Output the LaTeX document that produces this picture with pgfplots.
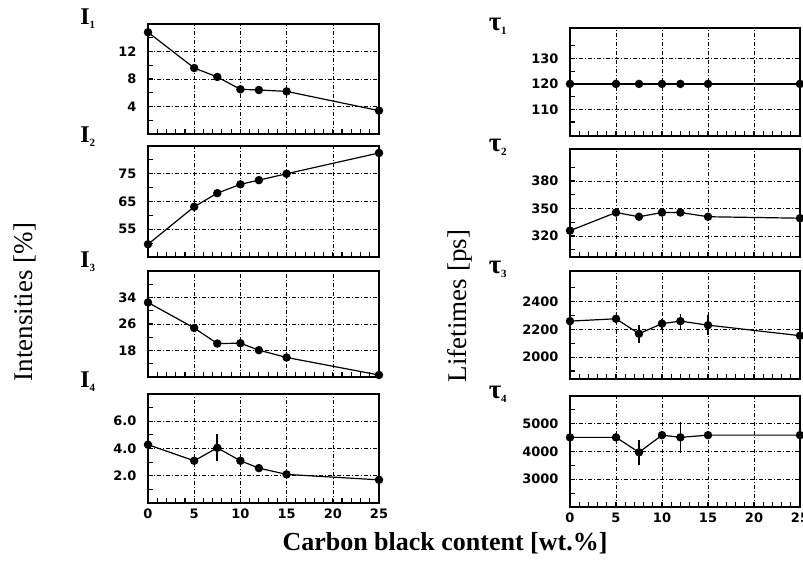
\documentclass[border=0pt]{standalone}
\usepackage{pgfplots}
\pgfplotsset{compat=1.18}
\usepackage{fontspec}
\setmainfont{Liberation Serif}
\newfontfamily\tickfont{DejaVu Sans}

\pgfplotsset{
  panel/.style={
    scale only axis, width=231pt,
    xmin=0, xmax=25,
    xtick={0,5,10,15,20,25}, minor x tick num=4,
    xticklabels={},
    tick pos=left, tick align=inside,
    major tick length=5pt, minor tick length=5pt,
    tick style={black, line width=1.1pt},
    axis line style={line width=1.6pt},
    grid=major,
    major grid style={black, line width=0.6pt, dash pattern=on 4pt off 2pt on 1pt off 2pt},
    tick label style={font=\tickfont\bfseries\fontsize{13}{14}\selectfont},
    /pgf/number format/assume math mode=true,
    /pgf/number format/1000 sep={},
    yticklabel style={xshift=-8pt},
    clip=false,
  },
  bottompanel/.style={xticklabels={0,5,10,15,20,25}, xticklabel style={yshift=-2pt}},
  series/.style={black, line width=1.2pt, mark=*, mark size=3.6pt,
    mark options={fill=black, solid},
    error bars/.cd, y dir=both, y explicit,
    error mark=none, error bar style={line width=1.8pt}},
}

\begin{document}
\begin{tikzpicture}
\useasboundingbox (0pt,0pt) rectangle (803pt,-560pt);

% ---- intensities ----
\begin{axis}[panel, at={(148pt,-24pt)}, anchor=north west, height=110pt,
  ymin=0, ymax=16, ytick={4,8,12}, minor ytick={2,6,10,14}]
  \addplot[series] coordinates {(0,14.8) (5,9.6) (7.5,8.3) (10,6.5) (12,6.4) (15,6.2) (25,3.4)};
  \node[font=\fontsize{24}{24}\selectfont\bfseries] at (rel axis cs:0,1) [xshift=-60pt, yshift=5pt] {I\textsubscript{\fontsize{11}{11}\selectfont 1}};
\end{axis}

\begin{axis}[panel, at={(148pt,-146pt)}, anchor=north west, height=111pt,
  ymin=45, ymax=85, ytick={55,65,75}, minor ytick={50,60,70,80}]
  \addplot[series] coordinates {(0,49.6) (5,63.1) (7.5,68) (10,71.2) (12,72.7) (15,75) (25,82.5)};
  \node[font=\fontsize{24}{24}\selectfont\bfseries] at (rel axis cs:0,1) [xshift=-60pt, yshift=9pt] {I\textsubscript{\fontsize{11}{11}\selectfont 2}};
\end{axis}

\begin{axis}[panel, at={(148pt,-271pt)}, anchor=north west, height=106pt,
  ymin=10, ymax=42, ytick={18,26,34}, minor ytick={14,22,30,38}]
  \addplot[series] coordinates {(0,32.5) (5,24.8) (7.5,20.1) (10,20.2) (12,18.1) (15,15.9) (25,10.6)};
  \node[font=\fontsize{24}{24}\selectfont\bfseries] at (rel axis cs:0,1) [xshift=-60pt, yshift=9pt] {I\textsubscript{\fontsize{11}{11}\selectfont 3}};
\end{axis}

\begin{axis}[panel, bottompanel, at={(148pt,-394pt)}, anchor=north west, height=109pt,
  ymin=0, ymax=8, ytick={2,4,6}, minor ytick={1,3,5,7},
  yticklabel style={/pgf/number format/.cd, fixed, fixed zerofill, precision=1}]
  \addplot[series] coordinates {(0,4.28) +- (0,0) (5,3.1) +- (0,0) (7.5,4.05) +- (0,1.0) (10,3.1) +- (0,0)
    (12,2.56) +- (0,0) (15,2.1) +- (0,0) (25,1.7) +- (0,0)};
  \node[font=\fontsize{24}{24}\selectfont\bfseries] at (rel axis cs:0,1) [xshift=-60pt, yshift=12pt] {I\textsubscript{\fontsize{11}{11}\selectfont 4}};
\end{axis}

% ---- lifetimes ----
\begin{axis}[panel, at={(570pt,-28pt)}, anchor=north west, height=108pt, width=230pt,
  ymin=99.5, ymax=142, ytick={110,120,130}, minor ytick={105,115,125,135}]
  \addplot[series] coordinates {(0,120) (5,120) (7.5,120) (10,120) (12,120) (15,120) (25,120)};
  \node[font=\fontsize{27}{28}\selectfont\bfseries] at (rel axis cs:0,1) [xshift=-72pt, yshift=2pt] {τ\textsubscript{\fontsize{11}{11}\selectfont 1}};
\end{axis}

\begin{axis}[panel, at={(570pt,-149pt)}, anchor=north west, height=108pt, width=230pt,
  ymin=297, ymax=415, ytick={320,350,380}, minor ytick={305,335,365,395}]
  \addplot[series] coordinates {(0,325.8) (5,345.6) (7.5,341) (10,345.6) (12,345.6) (15,341) (25,339.4)};
  \node[font=\fontsize{27}{28}\selectfont\bfseries] at (rel axis cs:0,1) [xshift=-72pt, yshift=2pt] {τ\textsubscript{\fontsize{11}{11}\selectfont 2}};
\end{axis}

\begin{axis}[panel, at={(570pt,-271pt)}, anchor=north west, height=108pt, width=230pt,
  ymin=1842, ymax=2622, ytick={2000,2200,2400}, minor ytick={1900,2100,2300,2500}]
  \addplot[series] coordinates {(0,2260) +- (0,0) (5,2277) +- (0,0) (7.5,2169) +- (0,65) (10,2242) +- (0,36)
    (12,2260) +- (0,55) (15,2231) +- (0,73) (25,2155) +- (0,0)};
  \node[font=\fontsize{27}{28}\selectfont\bfseries] at (rel axis cs:0,1) [xshift=-72pt, yshift=2pt] {τ\textsubscript{\fontsize{11}{11}\selectfont 3}};
\end{axis}

\begin{axis}[panel, bottompanel, at={(570pt,-396pt)}, anchor=north west, height=111pt, width=230pt,
  ymin=2000, ymax=6000, ytick={3000,4000,5000}, minor ytick={2500,3500,4500,5500}]
  \addplot[series] coordinates {(0,4510) +- (0,0) (5,4510) +- (0,0) (7.5,3970) +- (0,450) (10,4590) +- (0,0)
    (12,4510) +- (0,550) (15,4590) +- (0,0) (25,4590) +- (0,0)};
  \node[font=\fontsize{27}{28}\selectfont\bfseries] at (rel axis cs:0,1) [xshift=-72pt, yshift=2pt] {τ\textsubscript{\fontsize{11}{11}\selectfont 4}};
\end{axis}

% ---- shared labels ----
\node[rotate=90, font=\fontsize{27}{30}\selectfont] at (25pt,-302pt) {Intensities [\%]};
\node[rotate=90, font=\fontsize{27}{30}\selectfont] at (460pt,-306pt) {Lifetimes [ps]};
\node[font=\bfseries\fontsize{26}{30}\selectfont] at (445pt,-543pt) {Carbon black content [wt.\%]};
\end{tikzpicture}
\end{document}
